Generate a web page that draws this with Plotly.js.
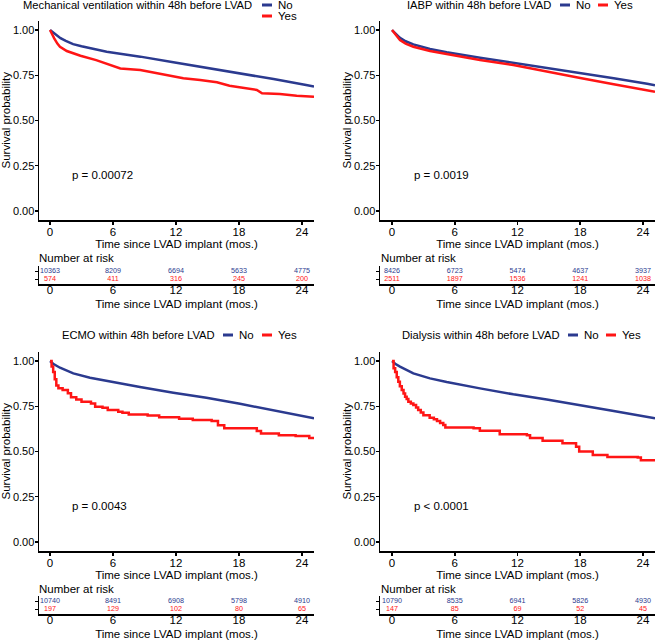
<!DOCTYPE html>
<html><head><meta charset="utf-8">
<script src="https://cdn.plot.ly/plotly-3.0.1.min.js"></script>
<style>html,body{margin:0;padding:0;background:#fff}#chart{width:658px;height:642px}</style>
</head><body><div id="chart"></div>
<script>
// ---------------- DATA ----------------
const riskTimes = [0, 6, 12, 18, 24];
const groupNames = ['No', 'Yes'];
const panelTitles = ['Mechanical ventilation within 48h before LVAD', 'IABP within 48h before LVAD',
                     'ECMO within 48h before LVAD', 'Dialysis within 48h before LVAD'];
const pValues = ['p = 0.00072', 'p = 0.0019', 'p = 0.0043', 'p < 0.0001'];

// Mechanical ventilation
const mvNoT  = [0,0.3,0.6,1,1.5,2.2,3,3.8,5.4,7,8.6,11.75,14.9,18.1,21.3,24.4,25.15];
const mvNoS  = [1,0.985,0.97,0.955,0.94,0.922,0.91,0.899,0.88,0.866,0.853,0.822,0.792,0.761,0.729,0.696,0.688];
const mvYesT = [0,0.2,0.4,0.7,0.95,1.6,2.9,4.4,5.7,6.7,8.6,10.2,11.7,12.7,14.3,15.9,17.1,18.7,19.7,20.2,21.9,23.5,25.15];
const mvYesS = [1,0.975,0.954,0.925,0.908,0.884,0.858,0.834,0.81,0.788,0.779,0.761,0.748,0.733,0.724,0.711,0.692,0.678,0.669,0.65,0.647,0.637,0.631];
const mvRiskNo  = [10363, 8209, 6694, 5633, 4775];
const mvRiskYes = [574, 411, 316, 245, 200];

// IABP
const iabpNoT  = [0,0.3,0.76,1.3,2.04,3.63,5.23,8.41,11.6,14.8,18,21.2,24.4,25.15];
const iabpNoS  = [1,0.983,0.957,0.938,0.921,0.895,0.877,0.847,0.819,0.792,0.764,0.733,0.703,0.695];
const iabpYesT = [0,0.3,0.76,1.3,2.04,3.63,5.23,8.41,11.6,13.2,14.8,18,21.2,25.15];
const iabpYesS = [1,0.978,0.945,0.925,0.908,0.884,0.866,0.834,0.807,0.79,0.77,0.735,0.70,0.659];
const iabpRiskNo  = [8426, 6723, 5474, 4637, 3937];
const iabpRiskYes = [2511, 1897, 1536, 1241, 1038];

// ECMO
const ecmoNoT  = [0,0.3,0.95,1.5,2.22,3.81,5.4,8.57,11.75,14.9,18.1,21.3,25.15];
const ecmoNoS  = [1,0.985,0.963,0.948,0.932,0.908,0.89,0.856,0.825,0.797,0.764,0.729,0.683];
const ecmoYesT = [0,0.15,0.3,0.45,0.6,0.8,1.2,1.7,2.0,2.5,3.0,3.9,4.3,5.0,5.5,6.5,6.9,7.5,9.3,10.4,12.3,13.6,15.4,16.0,16.6,19.7,20.1,21.8,23.4,24.7,25.15];
const ecmoYesS = [1,0.97,0.94,0.90,0.865,0.85,0.84,0.822,0.80,0.788,0.775,0.765,0.747,0.742,0.729,0.72,0.714,0.705,0.699,0.69,0.681,0.674,0.668,0.645,0.628,0.613,0.60,0.59,0.585,0.575,0.575];
const ecmoRiskNo  = [10740, 8491, 6908, 5798, 4910];
const ecmoRiskYes = [197, 129, 102, 80, 65];

// Dialysis
const dialNoT  = [0,0.3,0.76,1.3,2.04,3.63,5.23,8.41,11.6,14.8,18,21.2,25.15];
const dialNoS  = [1,0.985,0.969,0.952,0.932,0.904,0.884,0.849,0.816,0.788,0.757,0.724,0.683];
const dialYesT = [0,0.15,0.3,0.45,0.6,0.75,0.93,1.1,1.25,1.4,1.56,1.8,2.04,2.3,2.5,2.75,3.0,3.6,4.0,4.3,4.6,4.9,5.1,7.8,8.4,10.3,12.9,13.2,14.4,16.3,17.6,17.9,19.2,20.6,23.5,23.8,25.15];
const dialYesS = [1,0.96,0.94,0.91,0.886,0.86,0.84,0.82,0.803,0.79,0.775,0.765,0.757,0.743,0.729,0.715,0.70,0.687,0.678,0.669,0.657,0.646,0.633,0.628,0.615,0.596,0.59,0.574,0.56,0.545,0.526,0.50,0.481,0.47,0.467,0.452,0.448];
const dialRiskNo  = [10790, 8535, 6941, 5826, 4930];
const dialRiskYes = [147, 85, 69, 52, 45];

// ---------------- STYLE / GEOMETRY ----------------
const W = 658, H = 642;
const BLUE = '#2B3A8F', RED = '#FF1515';
const FONT = 'Liberation Sans, Arial, Helvetica, sans-serif';
const FS = 11.5;
const fx = p => p / W, fy = p => 1 - p / H;

const series = [
  {noT: mvNoT, noS: mvNoS, yesT: mvYesT, yesS: mvYesS, rNo: mvRiskNo, rYes: mvRiskYes, yesShape: 'linear'},
  {noT: iabpNoT, noS: iabpNoS, yesT: iabpYesT, yesS: iabpYesS, rNo: iabpRiskNo, rYes: iabpRiskYes, yesShape: 'linear'},
  {noT: ecmoNoT, noS: ecmoNoS, yesT: ecmoYesT, yesS: ecmoYesS, rNo: ecmoRiskNo, rYes: ecmoRiskYes, yesShape: 'hv'},
  {noT: dialNoT, noS: dialNoS, yesT: dialYesT, yesS: dialYesS, rNo: dialRiskNo, rYes: dialRiskYes, yesShape: 'hv'}
];
// legend geometry (px): title left/y, key rows [keyLeft, y] for No and Yes
const geo = [
  {l: 39,  r: 314, top: 21,  bot: 220, rTop: 266, rBot: 284, xr: [-1.05, 25.15], narX: 37,  narY: 258,
   titX: 21,  titY: 5,   keys: [[262, 5], [262, 16]]},
  {l: 380, r: 655, top: 21,  bot: 220, rTop: 266, rBot: 284, xr: [-1.15, 25.15], narX: 379, narY: 258,
   titX: 405, titY: 5,   keys: [[560, 5], [598, 5]]},
  {l: 39,  r: 314, top: 352, bot: 551, rTop: 596, rBot: 614, xr: [-1.05, 25.15], narX: 37,  narY: 589,
   titX: 60,  titY: 335, keys: [[223, 335], [262, 335]]},
  {l: 380, r: 655, top: 352, bot: 551, rTop: 596, rBot: 614, xr: [-1.15, 25.15], narX: 379, narY: 589,
   titX: 400, titY: 335, keys: [[568, 335], [606, 335]]}
];

const data = [];
const layout = {
  width: W, height: H, margin: {l: 0, r: 0, t: 0, b: 0, autoexpand: false},
  paper_bgcolor: '#fff', plot_bgcolor: 'rgba(0,0,0,0)',
  font: {family: FONT, size: FS, color: '#000'},
  showlegend: false, annotations: [], shapes: []
};
const axName = n => (n === 1 ? '' : String(n));

series.forEach((s, i) => {
  const g = geo[i];
  const nm = 2 * i + 1, nr = 2 * i + 2;
  const mx = 'x' + axName(nm), my = 'y' + axName(nm), rx = 'x' + axName(nr), ry = 'y' + axName(nr);
  const axisCommon = {showline: true, linecolor: '#000', linewidth: 1.5, showgrid: false, zeroline: false,
                      tickcolor: '#000', tickwidth: 1.5, tickfont: {size: FS, color: '#000'}, fixedrange: true};

  layout['xaxis' + axName(nm)] = Object.assign({}, axisCommon, {
    domain: [fx(g.l), fx(g.r)], anchor: my, range: g.xr, tickvals: riskTimes,
    ticks: 'outside', ticklen: 3, ticklabelstandoff: -2,
    title: {text: 'Time since LVAD implant (mos.)', standoff: 0, font: {size: FS}}
  });
  layout['yaxis' + axName(nm)] = Object.assign({}, axisCommon, {
    domain: [fy(g.bot), fy(g.top)], anchor: mx, range: [-0.05, 1.05],
    tickvals: [0, 0.25, 0.5, 0.75, 1], tickformat: '.2f', ticks: 'outside', ticklen: 3,
    ticklabelstandoff: -2, tickfont: {size: 11, color: '#000'}
  });
  layout['xaxis' + axName(nr)] = Object.assign({}, axisCommon, {
    domain: [fx(g.l), fx(g.r)], anchor: ry, range: g.xr, tickvals: riskTimes,
    ticks: '', ticklen: 0, ticklabelstandoff: -5,
    title: {text: 'Time since LVAD implant (mos.)', standoff: 4, font: {size: FS}}
  });
  layout['yaxis' + axName(nr)] = Object.assign({}, axisCommon, {
    domain: [fy(g.rBot), fy(g.rTop)], anchor: rx, range: [-0.56, 1.69],
    tickvals: [0, 1], showticklabels: false, ticks: 'outside', ticklen: 3
  });

  // survival curves
  data.push({x: s.noT, y: s.noS, xaxis: mx, yaxis: my, mode: 'lines', name: groupNames[0], hoverinfo: 'skip',
             line: {color: BLUE, width: 2.5, shape: 'linear'}});
  data.push({x: s.yesT, y: s.yesS, xaxis: mx, yaxis: my, mode: 'lines', name: groupNames[1], hoverinfo: 'skip',
             line: {color: RED, width: 2.5, shape: s.yesShape}});

  // number at risk table (row 1 = No, row 0 = Yes)
  data.push({x: riskTimes, y: s.rNo.map(() => 1), text: s.rNo.map(String), mode: 'text', xaxis: rx, yaxis: ry,
             hoverinfo: 'skip', textfont: {size: 7.2, color: BLUE, family: FONT}});
  data.push({x: riskTimes, y: s.rYes.map(() => 0), text: s.rYes.map(String), mode: 'text', xaxis: rx, yaxis: ry,
             hoverinfo: 'skip', textfont: {size: 7.2, color: RED, family: FONT}});

  // legend (ggplot-style: title + short keys)
  layout.annotations.push({text: panelTitles[i], xref: 'paper', yref: 'paper', x: fx(g.titX), y: fy(g.titY),
                           xanchor: 'left', yanchor: 'middle', showarrow: false, font: {size: 11.2}});
  [BLUE, RED].forEach((col, k) => {
    const [kx, ky] = g.keys[k];
    layout.shapes.push({type: 'line', xref: 'paper', yref: 'paper', x0: fx(kx), x1: fx(kx + 10),
                        y0: fy(ky), y1: fy(ky), line: {color: col, width: 3}});
    layout.annotations.push({text: groupNames[k], xref: 'paper', yref: 'paper', x: fx(kx + 14), y: fy(ky),
                             xanchor: 'left', yanchor: 'middle', showarrow: false, font: {size: FS}});
  });

  // y-axis title
  layout.annotations.push({text: 'Survival probability', xref: 'paper', yref: 'paper', textangle: -90,
                           x: fx(g.l - 34), y: fy((g.top + g.bot) / 2), xanchor: 'center', yanchor: 'middle',
                           showarrow: false, font: {size: FS}});
  layout.annotations.push({text: 'Number at risk', xref: 'paper', yref: 'paper', x: fx(g.narX), y: fy(g.narY),
                           xanchor: 'left', yanchor: 'middle', showarrow: false, font: {size: FS}});
  layout.annotations.push({text: pValues[i], xref: mx, yref: my, x: 1.9, y: 0.2,
                           xanchor: 'left', yanchor: 'middle', showarrow: false, font: {size: FS}});
});

Plotly.newPlot('chart', data, layout, {staticPlot: true, displayModeBar: false});
</script></body></html>
